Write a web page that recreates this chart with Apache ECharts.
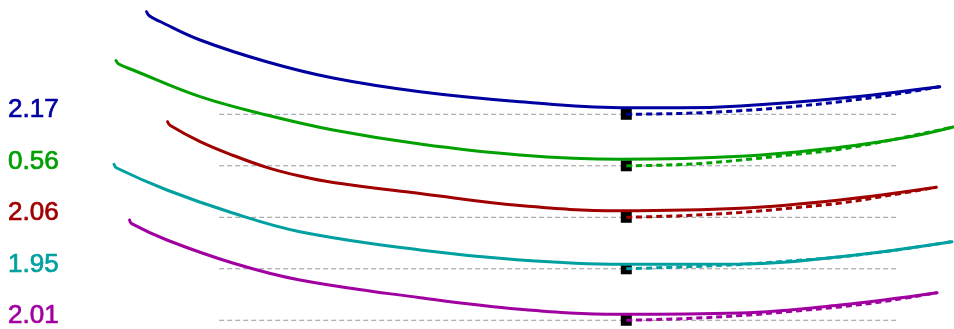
<!DOCTYPE html>
<html>
<head>
<meta charset="utf-8">
<script src="https://cdn.jsdelivr.net/npm/echarts@6/dist/echarts.min.js"></script>
<style>
  html, body { margin: 0; padding: 0; background: #fff; }
  #chart { width: 954px; height: 329px; }
</style>
</head>
<body>
<div id="chart"></div>
<script>
// row labels and colours, top to bottom
var rowLabels = ['2.17', '0.56', '2.06', '1.95', '2.01'];
var rowColors = ['#0000a0', '#00a000', '#a00000', '#00a0a0', '#a000a0'];

// solid curves: [x, height above the row's baseline]
var blueLine = [[-1.07, 19.92], [-1.03, 19.15], [-0.87, 18.02], [-0.28, 14.43], [0.70, 10.21], [1.68, 7.05], [2.96, 4.39], [4.43, 2.45], [5.91, 1.28], [6.79, 1.25], [7.68, 1.61], [9.15, 3.11], [10.62, 5.36]];
var greenLine = [[-1.52, 20.41], [-1.48, 19.77], [-1.27, 18.60], [-0.28, 13.42], [0.70, 9.86], [1.68, 6.95], [2.96, 4.23], [4.43, 2.10], [5.91, 1.26], [7.68, 1.84], [9.15, 3.59], [10.14, 5.53], [10.82, 7.53]];
var redLine = [[-0.76, 18.56], [-0.72, 17.83], [-0.28, 14.70], [0.20, 12.05], [0.70, 9.70], [1.19, 8.00], [1.68, 6.74], [2.96, 4.60], [4.43, 2.27], [5.91, 1.28], [7.68, 1.75], [9.15, 3.36], [10.57, 5.83]];
var cyanLine = [[-1.55, 20.29], [-1.51, 19.57], [-0.77, 15.30], [0.20, 10.83], [1.19, 7.20], [2.96, 3.65], [4.43, 1.71], [5.91, 0.87], [7.68, 0.93], [9.15, 2.35], [10.80, 5.26]];
var magentaLine = [[-1.32, 19.48], [-1.29, 18.76], [-0.77, 15.59], [0.20, 11.13], [1.19, 7.83], [2.96, 4.39], [4.43, 2.14], [5.91, 1.17], [7.68, 1.42], [9.15, 2.97], [10.58, 5.36]];

// dashed curves from the marker
var blueFit = [[6, 0], [6.9, 0.20], [7.68, 0.70], [8.4, 1.43], [9.15, 2.44], [9.9, 3.75], [10.62, 5.36]];
var greenFit = [[6, 0], [6.9, 0.30], [7.68, 1.10], [8.4, 2.10], [9.15, 3.20], [9.9, 5.00], [10.82, 7.53]];
var redFit = [[6, 0], [6.9, 0.35], [7.68, 0.93], [8.4, 1.75], [9.15, 2.75], [9.9, 4.30], [10.57, 5.83]];
var cyanFit = [[6, 0], [6.9, 0.40], [7.68, 0.85], [8.4, 1.50], [9.15, 2.30], [9.9, 3.50], [10.80, 5.26]];
var magentaFit = [[6, 0], [6.9, 0.35], [7.68, 0.91], [8.4, 1.70], [9.15, 2.60], [9.9, 3.85], [10.58, 5.36]];

var baseSpan = [0, 10];
var markerX = 6;
var labelX = -3.11;
var rowStep = 10;

(function() {
  var lines = [blueLine, greenLine, redLine, cyanLine, magentaLine];
  var fits = [blueFit, greenFit, redFit, cyanFit, magentaFit];
  var series = [];

  function shift(pts, off) {
    return pts.map(function(p) { return [p[0], p[1] + off]; });
  }

  for (var i = 0; i < 5; i++) {
    var off = (4 - i) * rowStep;
    var color = rowColors[i];
    series.push({
      type: 'line',
      data: [[baseSpan[0], off], [baseSpan[1], off]],
      symbol: 'none',
      silent: true,
      lineStyle: { color: '#999', width: 1, type: [5, 3] },
      z: 1
    });
    series.push({
      type: 'scatter',
      data: [[markerX, off]],
      symbol: 'rect',
      symbolSize: 11,
      itemStyle: { color: '#000', opacity: 1 },
      z: 2
    });
    series.push({
      type: 'line',
      data: shift(lines[i], off),
      symbol: 'none',
      smooth: 0.4,
      clip: false,
      lineStyle: { color: color, width: 3, cap: 'round' },
      z: 3
    });
    series.push({
      type: 'line',
      data: shift(fits[i], off),
      symbol: 'none',
      smooth: 0.4,
      clip: false,
      lineStyle: { color: color, width: 3, type: [6, 4] },
      z: 4
    });
    series.push({
      type: 'scatter',
      data: [[labelX, off + 0.85]],
      symbolSize: 0,
      itemStyle: { opacity: 1 },
      label: {
        show: true,
        position: 'right',
        distance: 0,
        formatter: rowLabels[i],
        color: color,
        opacity: 1,
        fontSize: 26,
        textBorderColor: color,
        textBorderWidth: 0.7,
        fontFamily: 'Liberation Sans, Arial, sans-serif'
      },
      z: 5
    });
  }

  var chart = echarts.init(document.getElementById('chart'), null, { renderer: 'canvas' });
  chart.setOption({
    animation: false,
    grid: { left: 2, right: 2, top: 1, bottom: 1 },
    xAxis: { type: 'value', min: -3.2, max: 10.8, show: false },
    yAxis: { type: 'value', min: -1.5, max: 62, show: false },
    series: series
  });
  window.addEventListener('resize', function() { chart.resize(); });
})();
</script>
</body>
</html>
